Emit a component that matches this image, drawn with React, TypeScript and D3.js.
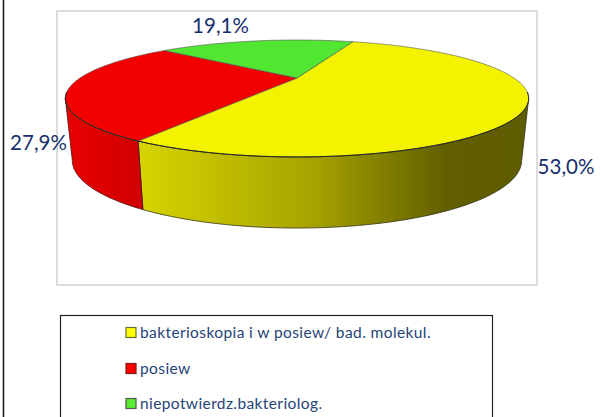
import React from "react";
import * as d3 from "d3";

const categories = ["bakterioskopia i w posiew/ bad. molekul.", "posiew", "niepotwierdz.bakteriolog."];
const values = [53.0, 27.9, 19.1];
const labels = ["53,0%", "27,9%", "19,1%"];
const topColors = ["#f3f300", "#f30000", "#50e632"];
const swatchColors = ["#ffff00", "#ff0000", "#55ee33"];
const swatchStrokes = ["#6b6b3a", "#7a1a1a", "#555555"];
const labelPos: [number, number][] = [[566, 174], [38.5, 150], [220.5, 33]];
const legendY = [333, 369, 404];

const rad = Math.PI / 180;
const CX = 297, CY = 78;
const P = 0.35, A = 51.3, B = 217;

// perspective projection of unit disc
function proj(theta: number, side: "top" | "bottom"): [number, number] {
  const u = Math.sin(theta), v = -Math.cos(theta);
  const w = 1 - P * v;
  const X = (B * u) / w, Y = (A * v) / w;
  if (side === "top") return [CX + X, CY + Y];
  return [CX + 0.97 * X, 136.5 + 1.16 * Y];
}
function arcPts(a0: number, a1: number, side: "top" | "bottom") {
  const n = Math.max(2, Math.ceil(Math.abs(a1 - a0) / (1 * rad)));
  return d3.range(n + 1).map((i) => proj(a0 + ((a1 - a0) * i) / n, side));
}

const pie = d3.pie<number>().sort(null).startAngle(20.0 * rad).endAngle(380.0 * rad);
const arcs = pie(values);
const line = d3.line();
const tanR = 110.5 * rad, tanL = 249.5 * rad;

export default function App() {
  const topPaths = arcs.map((a) => {
    const pts = arcPts(a.startAngle, a.endAngle, "top");
    return line([[CX, CY], ...pts])! + "Z";
  });
  const sideFor = (a0: number, a1: number) =>
    line([...arcPts(a0, a1, "top"), ...arcPts(a1, a0, "bottom")])! + "Z";
  const yellowEnd = arcs[0].endAngle;
  const frontEdge = line(arcPts(tanR - 6 * rad, tanL + 6 * rad, "top"));
  return (
    <svg
      width={601}
      height={417}
      style={{ position: "absolute", left: 0, top: 0, background: "#fff" }}
      fontFamily="Lato, 'Open Sans', sans-serif"
    >
      <defs>
        <linearGradient id="ys" gradientUnits="userSpaceOnUse" x1={141} x2={522} y1={0} y2={0}>
          <stop offset="0" stopColor="#d6d400" />
          <stop offset="0.45" stopColor="#a6a300" />
          <stop offset="0.8" stopColor="#625f00" />
          <stop offset="1" stopColor="#5e5c00" />
        </linearGradient>
        <linearGradient id="rs" gradientUnits="userSpaceOnUse" x1={65} x2={146} y1={0} y2={0}>
          <stop offset="0" stopColor="#e80000" />
          <stop offset="1" stopColor="#d00000" />
        </linearGradient>
      </defs>
      <line x1={3.5} x2={3.5} y1={0} y2={417} stroke="#111" strokeWidth={1.5} />
      <rect x={57} y={11} width={480} height={274} fill="#fff" stroke="#dcdcdc" strokeWidth={2} />
      <path d={sideFor(tanR, yellowEnd)} fill="url(#ys)" stroke="#33331a" strokeWidth={0.8} strokeLinejoin="round" />
      <path d={sideFor(yellowEnd, tanL)} fill="url(#rs)" stroke="#4a1010" strokeWidth={0.8} strokeLinejoin="round" />
      {topPaths.map((d, i) => (
        <path key={i} d={d} fill={topColors[i]} stroke="#555" strokeWidth={0.6} strokeLinejoin="round" />
      ))}
      <path d={frontEdge!} fill="none" stroke="#222" strokeWidth={1} />
      {labels.map((t, i) => (
        <text key={t} x={labelPos[i][0]} y={labelPos[i][1]} textAnchor="middle" fontSize={20.5} fill="#14306b">
          {t}
        </text>
      ))}
      <rect x={60.5} y={315.5} width={432} height={120} fill="#fff" stroke="#222" strokeWidth={1.2} />
      {categories.map((c, i) => (
        <g key={c}>
          <rect x={126} y={legendY[i] - 5.5} width={10} height={10} fill={swatchColors[i]} stroke={swatchStrokes[i]} strokeWidth={1.2} />
          <text x={140} y={legendY[i] + 5} fontSize={15.5} letterSpacing={0.4} fill="#1f4478">
            {c}
          </text>
        </g>
      ))}
    </svg>
  );
}
